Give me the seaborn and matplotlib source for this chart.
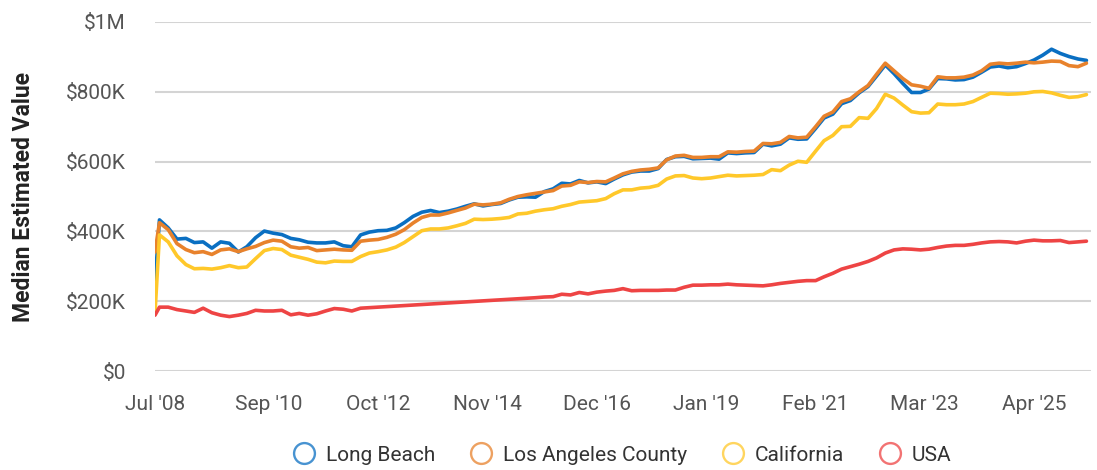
import pandas as pd
import numpy as np
import matplotlib
matplotlib.use('Agg')
import matplotlib.pyplot as plt
import seaborn as sns
from matplotlib.lines import Line2D

# bi-monthly samples (values in $K)
dates = [pd.Timestamp('2008-07-01')] + list(pd.date_range('2008-08-01', '2026-04-01', freq='2MS'))

long_beach = [252,
    433, 410, 378, 380, 368, 370, 352, 370, 366, 341,
    356, 382, 401, 395, 391, 380, 376, 369, 367, 367,
    370, 359, 356, 390, 398, 402, 403, 410, 425, 443,
    455, 460, 454, 458, 464, 472, 479, 473, 477, 480,
    490, 498, 499, 498, 514, 522, 538, 536, 546, 539,
    542, 537, 550, 562, 570, 573, 573, 580, 606, 614,
    615, 608, 609, 610, 607, 625, 623, 625, 626, 650,
    645, 650, 668, 664, 665, 695, 725, 736, 766, 775,
    797, 815, 845, 877, 852, 824, 798, 798, 808, 838,
    837, 834, 835, 842, 856, 871, 874, 869, 872, 881,
    891, 905, 922, 910, 901, 894, 890]

la_county = [341,
    425, 405, 365, 348, 339, 342, 334, 347, 350, 342,
    350, 357, 368, 375, 372, 356, 352, 354, 345, 347,
    349, 347, 346, 372, 375, 377, 383, 392, 405, 424,
    440, 447, 447, 453, 460, 467, 478, 476, 478, 482,
    492, 500, 505, 509, 513, 517, 530, 532, 542, 540,
    543, 542, 553, 565, 572, 576, 578, 582, 605, 616,
    618, 612, 612, 614, 614, 628, 627, 629, 630, 652,
    651, 655, 672, 668, 670, 700, 730, 742, 772, 780,
    800, 818, 850, 882, 860, 838, 820, 816, 810, 843,
    840, 840, 842, 848, 860, 879, 882, 880, 882, 885,
    883, 885, 888, 887, 875, 872, 882]

california = [166,
    390, 370, 330, 305, 293, 294, 292, 296, 302, 296,
    298, 322, 345, 351, 348, 332, 326, 320, 312, 310,
    315, 314, 314, 328, 338, 342, 347, 355, 368, 385,
    402, 407, 407, 410, 416, 423, 435, 434, 435, 437,
    440, 450, 452, 458, 462, 465, 472, 477, 484, 486,
    488, 494, 508, 519, 519, 524, 526, 532, 550, 559,
    560, 553, 551, 553, 557, 561, 559, 560, 561, 563,
    577, 574, 590, 601, 598, 630, 660, 675, 700, 701,
    726, 724, 752, 793, 782, 762, 743, 739, 740, 765,
    763, 763, 765, 772, 784, 796, 795, 793, 794, 796,
    800, 801, 797, 790, 784, 786, 792]

nan = np.nan
usa = [160,
    183, 183, 176, 172, 168, 180, 167, 160, 156, 160,
    165, 174, 172, 172, 174, 161, 165, 160, 164, 172,
    179, 177, 172, 180, nan, nan, nan, nan, nan, nan,
    nan, nan, nan, nan, nan, nan, nan, nan, nan, nan,
    nan, nan, nan, 210, 212, 213, 220, 218, 225, 221,
    226, 229, 231, 236, 230, 231, 231, 231, 232, 232,
    240, 246, 246, 247, 247, 249, 247, 246, 245, 244,
    247, 251, 254, 257, 259, 259, 270, 280, 292, 299,
    306, 314, 324, 338, 347, 350, 349, 347, 349, 354,
    358, 360, 360, 363, 367, 370, 371, 370, 367, 372,
    375, 373, 373, 374, 368, 370, 372]

regions = ['Long Beach', 'Los Angeles County', 'California', 'USA']
colors = ['#0a6fc2', '#e8822c', '#ffc82a', '#ee4444']

x_ticks = ['2008-07-01', '2010-09-01', '2012-10-01', '2014-11-01', '2016-12-01',
           '2019-01-01', '2021-02-01', '2023-03-01', '2025-04-01']
x_labels = ["Jul '08", "Sep '10", "Oct '12", "Nov '14", "Dec '16",
            "Jan '19", "Feb '21", "Mar '23", "Apr '25"]
y_ticks = [0, 200, 400, 600, 800, 1000]
y_labels = ['$0', '$200K', '$400K', '$600K', '$800K', '$1M']

df = pd.DataFrame({'date': dates, 'Long Beach': long_beach, 'Los Angeles County': la_county,
                   'California': california, 'USA': usa})
df = df.melt(id_vars='date', var_name='region', value_name='value').dropna()

sns.set_theme(style='white')
plt.rcParams['font.family'] = ['Roboto', 'DejaVu Sans']

fig = plt.figure(figsize=(10.97, 4.70), dpi=100)
ax = fig.add_axes([0.1413, 0.2106, 0.853, 0.7426])

sns.lineplot(data=df, x='date', y='value', hue='region', hue_order=regions,
             palette=colors, linewidth=2.6, legend=False, ax=ax)

ax.set_xlim(pd.Timestamp('2008-07-01'), pd.Timestamp('2026-05-01'))
ax.set_ylim(0, 1000)
ax.set_xticks(pd.to_datetime(x_ticks))
ax.set_xticklabels(x_labels)
ax.set_yticks(y_ticks)
ax.set_yticklabels(y_labels)
ax.yaxis.grid(True, color='#d4d4d4', linewidth=1.5)
ax.set_axisbelow(True)
for s in ax.spines.values():
    s.set_visible(False)
ax.tick_params(axis='both', length=0, labelsize=15, labelcolor='#555555')
ax.tick_params(axis='y', pad=21)
ax.tick_params(axis='x', pad=17)
ax.set_xlabel('')
ax.set_ylabel('Median Estimated Value', fontsize=16.5, fontweight='bold', color='#222222', labelpad=22)

handles = [Line2D([], [], linestyle='none', marker='o', markersize=15, markerfacecolor='none',
                  markeredgecolor=c, markeredgewidth=1.7, alpha=0.75) for c in colors]
ax.legend(handles, regions, loc='upper center', bbox_to_anchor=(0.5, -0.16), ncol=4,
          frameon=False, fontsize=15, handlelength=1.0, handletextpad=0.55,
          columnspacing=1.7, labelcolor='#333333')

plt.savefig('out.png', dpi=100)
